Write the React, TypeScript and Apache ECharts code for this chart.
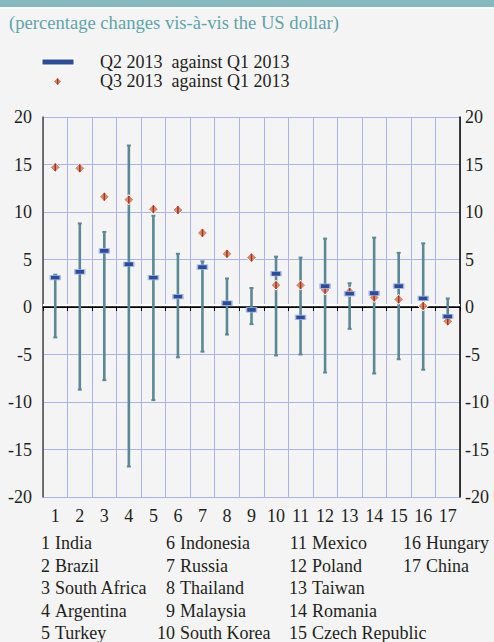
import React, { useEffect, useRef } from "react";
import * as echarts from "echarts";

const categories = ["1","2","3","4","5","6","7","8","9","10","11","12","13","14","15","16","17"];
const countries = ["India","Brazil","South Africa","Argentina","Turkey","Indonesia","Russia","Thailand","Malaysia","South Korea","Mexico","Poland","Taiwan","Romania","Czech Republic","Hungary","China"];
const rangeMin = [-3.2,-8.7,-7.7,-16.8,-9.8,-5.3,-4.7,-2.9,-1.8,-5.1,-5.0,-6.9,-2.3,-7.0,-5.5,-6.6,-1.0];
const rangeMax = [3.4,8.8,7.9,17.0,9.6,5.6,4.8,3.0,2.0,5.3,5.2,7.2,2.5,7.3,5.7,6.7,0.9];
const q2Values = [3.1,3.7,5.9,4.5,3.1,1.1,4.2,0.4,-0.3,3.5,-1.1,2.2,1.4,1.45,2.2,0.9,-1.0];
const q3Values = [14.7,14.6,11.6,11.3,10.3,10.2,7.8,5.6,5.2,2.3,2.3,1.8,1.6,1.0,0.8,0.1,-1.5];
const titleText = "(percentage changes vis-à-vis the US dollar)";
const legendQ2 = "Q2 2013  against Q1 2013";
const legendQ3 = "Q3 2013  against Q1 2013";

const FONT = "Liberation Serif";
const TXT = "#231f20";
const GRID = "#abb3ea";
const RANGE = "#5a8995";

export default function App() {
  const ref = useRef<HTMLDivElement>(null);
  useEffect(() => {
    if (!ref.current) return;
    const chart = echarts.init(ref.current, undefined, { renderer: "svg" });

    const colX = [[50, 55], [175, 180], [307, 312], [421, 426]];
    const rowY = [543, 565.5, 588, 610.5, 633];
    const listGraphics: any[] = [];
    countries.forEach((name, i) => {
      const col = Math.floor(i / 5);
      const row = i % 5;
      listGraphics.push({
        type: "text", x: colX[col][0], y: rowY[row],
        style: { text: categories[i], font: `18px ${FONT}`, fill: TXT, align: "right", verticalAlign: "middle" },
      });
      listGraphics.push({
        type: "text", x: colX[col][1], y: rowY[row],
        style: { text: name, font: `18px ${FONT}`, fill: TXT, align: "left", verticalAlign: "middle" },
      });
    });

    const option: any = {
      animation: false,
      backgroundColor: "#f4f4f4",
      grid: { left: 43, right: 34, top: 117, bottom: 145, containLabel: false },
      graphic: [
        { type: "rect", shape: { x: 0, y: 0, width: 494, height: 7 }, style: { fill: "#86b8bf" } },
        { type: "rect", shape: { x: 0, y: 7, width: 494, height: 1.5 }, style: { fill: "#ffffff" } },
        { type: "text", x: 9, y: 22, style: { text: titleText, font: `18.6px ${FONT}`, fill: "#5fa4a8", verticalAlign: "middle" } },
        { type: "rect", shape: { x: 42, y: 59, width: 32, height: 6 }, style: { fill: "#2b4c9c", stroke: "#ffffff", lineWidth: 1 } },
        { type: "text", x: 100, y: 62, style: { text: legendQ2, font: `18px ${FONT}`, fill: TXT, verticalAlign: "middle" } },
        { type: "polygon", shape: { points: [[57.5, 77.5], [61.5, 81.5], [57.5, 85.5], [53.5, 81.5]] }, style: { fill: "#d98b70", stroke: "#ffffff", lineWidth: 0.8 } },
        { type: "rect", shape: { x: 57, y: 78.5, width: 1.3, height: 6 }, style: { fill: "#a8321e" } },
        { type: "text", x: 100, y: 81, style: { text: legendQ3, font: `18px ${FONT}`, fill: TXT, verticalAlign: "middle" } },
        ...listGraphics,
      ],
      xAxis: {
        type: "category",
        data: categories,
        boundaryGap: true,
        offset: 2,
        axisLine: { show: true, lineStyle: { color: "#000", width: 1.2 } },
        axisTick: { show: true, length: 4, lineStyle: { color: "#000", width: 1 } },
        axisLabel: { color: TXT, fontSize: 18, fontFamily: FONT, margin: 8, interval: 0 },
        splitLine: { show: true, lineStyle: { color: GRID, width: 1 } },
      },
      yAxis: [
        {
          type: "value", min: -20, max: 20, interval: 5, position: "left",
          axisLine: { show: true, lineStyle: { color: "#4a4a4a", width: 1.5 } },
          axisTick: { show: false },
          axisLabel: { color: TXT, fontSize: 18, fontFamily: FONT, margin: 11 },
          splitLine: { show: true, lineStyle: { color: GRID, width: 1 } },
        },
        {
          type: "value", min: -20, max: 20, interval: 5, position: "right",
          axisLine: { show: true, lineStyle: { color: "#000", width: 1.5 } },
          axisTick: { show: false },
          axisLabel: { color: TXT, fontSize: 18, fontFamily: FONT, margin: 5 },
          splitLine: { show: false },
        },
      ],
      series: [
        {
          type: "custom",
          name: "zero",
          silent: true,
          z: 1,
          data: [[0, 0]],
          renderItem: (params: any, api: any) => {
            const cs = params.coordSys;
            const y = api.coord([0, 0])[1];
            return {
              type: "group",
              children: [
                { type: "rect", shape: { x: cs.x, y: y - 3, width: cs.width, height: 2.5 }, style: { fill: "#ffffff" } },
                { type: "line", shape: { x1: cs.x, y1: y, x2: cs.x + cs.width, y2: y }, style: { stroke: "#000", lineWidth: 1.3 } },
              ],
            };
          },
        },
        {
          type: "custom",
          name: "range",
          z: 2,
          encode: { x: 0, y: [1, 2] },
          data: categories.map((c, i) => [i, rangeMin[i], rangeMax[i]]),
          renderItem: (params: any, api: any) => {
            const idx = api.value(0);
            const top = api.coord([idx, api.value(2)]);
            const bot = api.coord([idx, api.value(1)]);
            return {
              type: "group",
              children: [
                { type: "line", shape: { x1: top[0], y1: top[1], x2: bot[0], y2: bot[1] }, style: { stroke: RANGE, lineWidth: 2.6 } },
                { type: "rect", shape: { x: top[0] - 2, y: top[1] - 1, width: 4, height: 2 }, style: { fill: RANGE } },
                { type: "rect", shape: { x: bot[0] - 2, y: bot[1] - 1, width: 4, height: 2 }, style: { fill: RANGE } },
              ],
            };
          },
        },
        {
          type: "scatter",
          name: legendQ3,
          z: 3,
          symbol: "diamond",
          symbolSize: [10, 10],
          itemStyle: { color: "#d98b70", borderColor: "#ffffff", borderWidth: 1, opacity: 1 },
          data: q3Values,
        },
        {
          type: "scatter",
          name: "q3mark",
          silent: true,
          z: 4,
          symbol: "rect",
          symbolSize: [1.5, 7.5],
          itemStyle: { color: "#a8321e", opacity: 1 },
          data: q3Values,
        },
        {
          type: "scatter",
          name: legendQ2,
          z: 5,
          symbol: "rect",
          symbolSize: [10, 4.5],
          itemStyle: { color: "#2b4c9c", borderColor: "#a9b9ea", borderWidth: 1, opacity: 1 },
          data: q2Values,
        },
      ],
    };
    chart.setOption(option);
    return () => chart.dispose();
  }, []);
  return <div ref={ref} style={{ position: "absolute", left: 0, top: 0, width: 494, height: 642 }} />;
}
